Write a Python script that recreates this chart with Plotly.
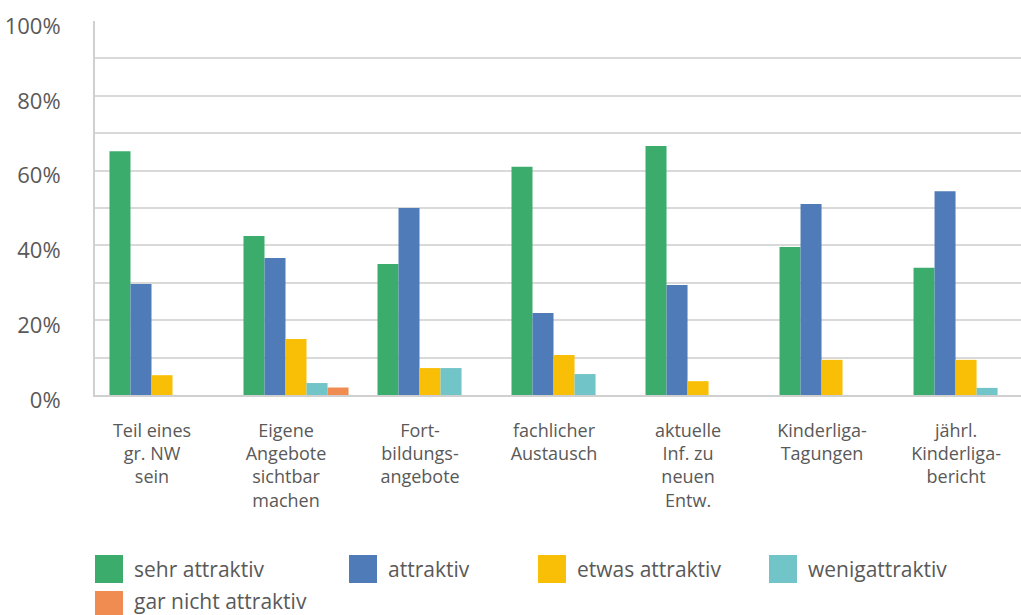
import plotly.graph_objects as go

# Categories (x-axis labels, pre-wrapped)
categories = [
    "Teil eines<br>gr. NW<br>sein",
    "Eigene<br>Angebote<br>sichtbar<br>machen",
    "Fort-<br>bildungs-<br>angebote",
    "fachlicher<br>Austausch",
    "aktuelle<br>Inf. zu<br>neuen<br>Entw.",
    "Kinderliga-<br>Tagungen",
    "jährl.<br>Kinderliga-<br>bericht",
]

series_names = ["sehr attraktiv", "attraktiv", "etwas attraktiv",
                "wenigattraktiv", "gar nicht attraktiv"]

sehr_attraktiv = [65.2, 42.5, 35.0, 61.0, 66.6, 39.6, 34.0]
attraktiv = [29.7, 36.6, 50.0, 21.9, 29.4, 51.1, 54.5]
etwas_attraktiv = [5.3, 15.0, 7.2, 10.7, 3.7, 9.4, 9.4]
wenig_attraktiv = [0.0, 3.2, 7.2, 5.6, 0.0, 0.0, 1.9]
gar_nicht_attraktiv = [0.0, 2.0, 0.0, 0.0, 0.0, 0.0, 0.0]

series_values = [sehr_attraktiv, attraktiv, etwas_attraktiv,
                 wenig_attraktiv, gar_nicht_attraktiv]
colors = ["#3CAC6D", "#4F7CB8", "#F9BF07", "#71C4C8", "#F08C52"]

y_ticks = [0, 20, 40, 60, 80, 100]
y_tick_labels = ["0%", "20%", "40%", "60%", "80%", "100%"]

FONT = "Open Sans"
TEXT = "#595959"

# Figure geometry (pixels)
W, H = 1021, 615
ML, MR, MT, MB = 95, 0, 21, 220
PW, PH = W - ML - MR, H - MT - MB


def px_x(px):
    return (px - ML) / PW


def px_y(py):
    return (H - MB - py) / PH


fig = go.Figure()
for name, vals, col in zip(series_names, series_values, colors):
    fig.add_trace(go.Bar(
        x=list(range(len(categories))), y=vals, name=name,
        marker=dict(color=col, line=dict(width=0)),
        showlegend=False,
    ))

# Legend below the chart: big square swatches followed by the series name
legend_slots = [(95, 555), (349, 555), (538, 555), (769, 555), (95, 591)]
SW = 28
for (sx, sy), name, col in zip(legend_slots, series_names, colors):
    fig.add_shape(type="rect", xref="paper", yref="paper",
                  x0=px_x(sx), x1=px_x(sx + SW),
                  y0=px_y(sy), y1=px_y(sy + SW),
                  fillcolor=col, line=dict(width=0))
    text_mid = min(sy + SW / 2, 601)
    fig.add_annotation(xref="paper", yref="paper", x=px_x(sx + SW + 9),
                       y=px_y(text_mid), text=name, showarrow=False,
                       xanchor="left", yanchor="middle",
                       font=dict(family=FONT, size=21, color=TEXT))

fig.update_layout(
    width=W, height=H,
    margin=dict(l=ML, r=MR, t=MT, b=MB),
    plot_bgcolor="white", paper_bgcolor="white",
    barmode="group", bargap=0.216, bargroupgap=0.0,
    font=dict(family=FONT, color=TEXT),
)
fig.update_xaxes(
    range=[-0.5, 6.41],
    tickmode="array", tickvals=list(range(len(categories))),
    ticktext=categories,
    tickfont=dict(family=FONT, size=18, color=TEXT),
    showgrid=False, showline=True, linecolor="#d0d0d0", linewidth=2,
    ticks="", ticklabelstandoff=18, ticklabelshift=-10,
)
fig.update_yaxes(
    range=[0, 100],
    tickmode="array", tickvals=y_ticks, ticktext=y_tick_labels,
    tickfont=dict(family=FONT, size=22, color=TEXT),
    showgrid=True, gridcolor="#d9d9d9", gridwidth=1.5,
    minor=dict(dtick=10, showgrid=True, gridcolor="#d9d9d9", gridwidth=1.5),
    showline=True, linecolor="#d0d0d0", linewidth=2,
    zeroline=False, ticks="", ticklabelstandoff=28, ticklabelshift=5,
)

fig.write_html("out.html")
